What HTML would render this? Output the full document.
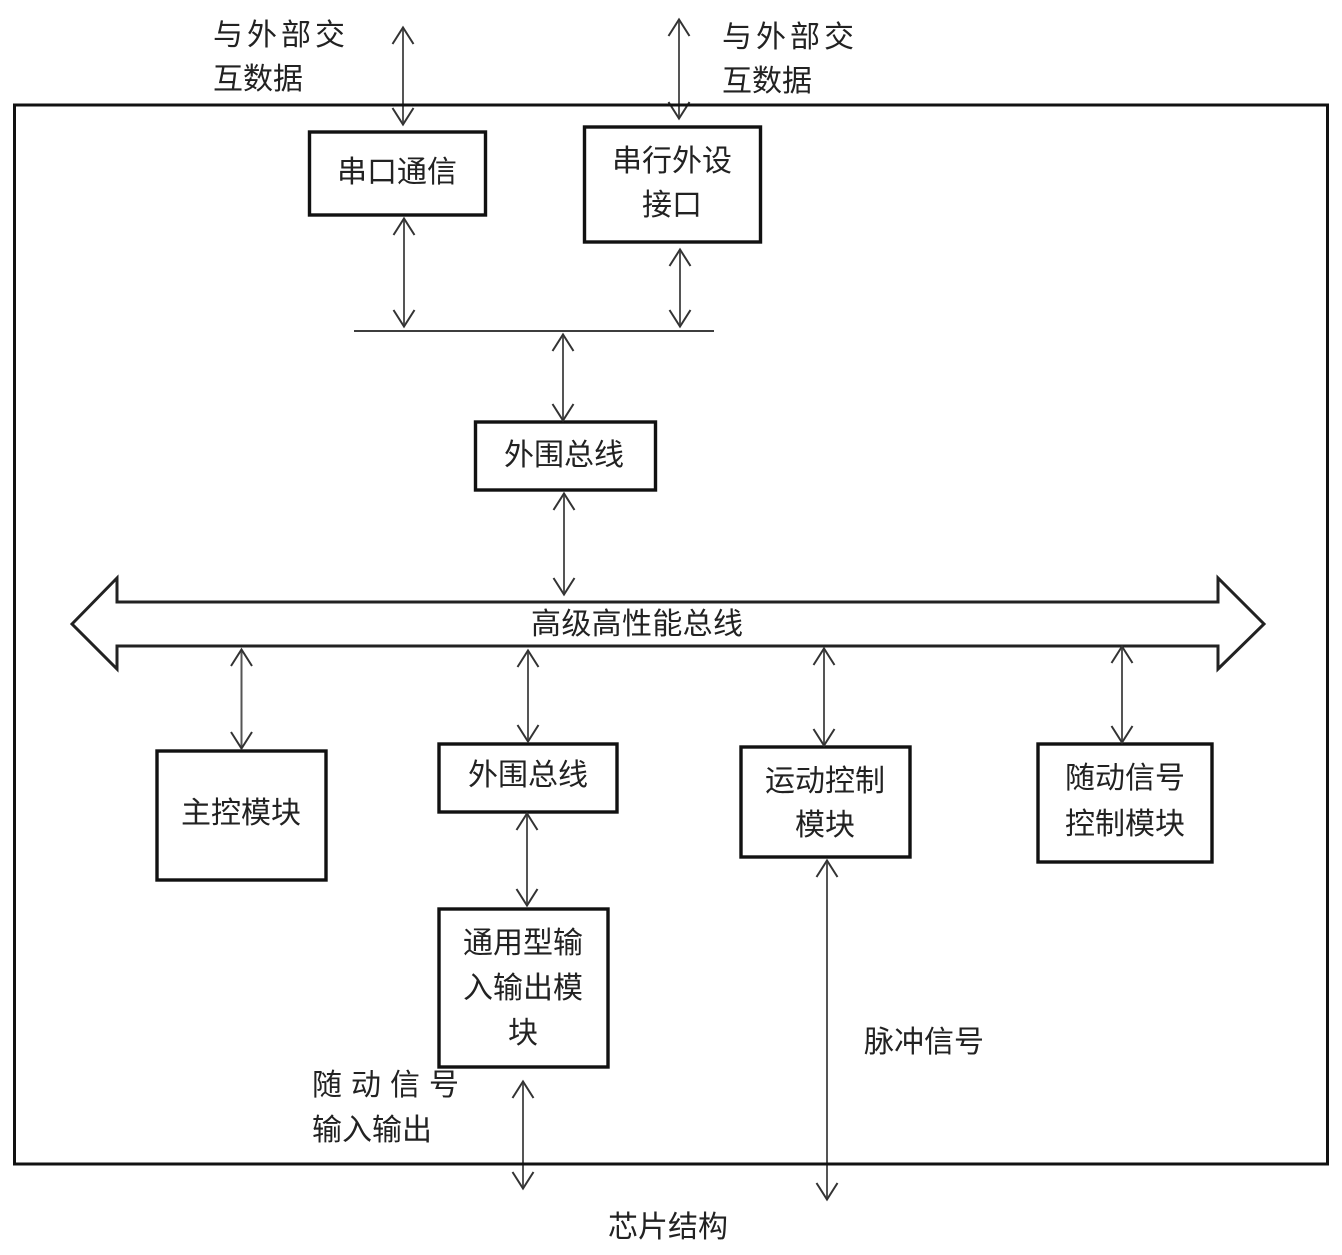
<!DOCTYPE html>
<html><head><meta charset="utf-8"><style>
html,body{margin:0;padding:0;background:#fff;width:1342px;height:1255px;overflow:hidden}
svg{display:block}
text{font-family:"Liberation Sans","WenQuanYi Zen Hei","Noto Sans CJK SC",sans-serif;font-size:30px;fill:#222;text-anchor:middle}
.l{text-anchor:start}
.b{fill:#fff;stroke:#111;stroke-width:3.4}
.a{stroke:#555;stroke-width:2;fill:none}
</style></head><body>
<svg width="1342" height="1255" viewBox="0 0 1342 1255" xmlns="http://www.w3.org/2000/svg">
<defs>
<marker id="e" viewBox="-20 -12 22 24" refX="0" refY="0" markerWidth="22" markerHeight="24" markerUnits="userSpaceOnUse" orient="auto-start-reverse"><path d="M-17 -10.500L-0.500 0L-17 10.500" fill="none" stroke="#333" stroke-width="2"/></marker>
</defs>
<rect x="14.500" y="105" width="1313" height="1059" fill="#fff"/>
<rect class="b" x="309.500" y="132" width="176" height="83"/>
<rect class="b" x="584.500" y="127" width="176" height="115"/>
<rect class="b" x="475.500" y="422" width="180" height="68"/>
<rect class="b" x="157" y="751" width="169" height="129"/>
<rect class="b" x="439" y="744" width="178" height="68"/>
<rect class="b" x="741" y="747" width="169" height="110"/>
<rect class="b" x="1038" y="744" width="174" height="118"/>
<rect class="b" x="439" y="909" width="169" height="158"/>
<path d="M354 331H714" stroke="#222" stroke-width="1.800" fill="none"/>
<path d="M72 624L117 578V602H1218V578L1264 624L1218 669V646H117V669Z" fill="#fff" stroke="#222" stroke-width="3"/>
<path class="a" d="M403 27V125" marker-start="url(#e)" marker-end="url(#e)"/>
<path class="a" d="M679 19V119" marker-start="url(#e)" marker-end="url(#e)"/>
<path class="a" d="M404 218V327" marker-start="url(#e)" marker-end="url(#e)"/>
<path class="a" d="M680 249V327" marker-start="url(#e)" marker-end="url(#e)"/>
<path class="a" d="M563 334V421" marker-start="url(#e)" marker-end="url(#e)"/>
<path class="a" d="M564 493V595" marker-start="url(#e)" marker-end="url(#e)"/>
<path class="a" d="M241.500 649V749" marker-start="url(#e)" marker-end="url(#e)"/>
<path class="a" d="M528 650V742" marker-start="url(#e)" marker-end="url(#e)"/>
<path class="a" d="M824 648V746" marker-start="url(#e)" marker-end="url(#e)"/>
<path class="a" d="M1122 646V743" marker-start="url(#e)" marker-end="url(#e)"/>
<path class="a" d="M527 813V906" marker-start="url(#e)" marker-end="url(#e)"/>
<path class="a" d="M827 860V1200" marker-start="url(#e)" marker-end="url(#e)"/>
<path class="a" d="M523 1081V1189" marker-start="url(#e)" marker-end="url(#e)"/>
<rect x="14.500" y="105" width="1313" height="1059" fill="none" stroke="#111" stroke-width="3"/>
<text class="l" x="213" y="45" textLength="132">与外部交</text>
<text class="l" x="213" y="89">互数据</text>
<text class="l" x="722" y="47" textLength="132">与外部交</text>
<text class="l" x="722" y="91">互数据</text>
<text x="397" y="182">串口通信</text>
<text x="672" y="171">串行外设</text>
<text x="672" y="215">接口</text>
<text x="564" y="465">外围总线</text>
<text x="637" y="634" textLength="212">高级高性能总线</text>
<text x="241" y="823">主控模块</text>
<text x="528" y="785">外围总线</text>
<text x="825" y="791">运动控制</text>
<text x="825" y="835">模块</text>
<text x="1125" y="788">随动信号</text>
<text x="1125" y="834">控制模块</text>
<text x="523" y="953">通用型输</text>
<text x="523" y="998">入输出模</text>
<text x="523" y="1043">块</text>
<text class="l" x="312" y="1095" textLength="147">随动信号</text>
<text class="l" x="312" y="1140">输入输出</text>
<text class="l" x="864" y="1052">脉冲信号</text>
<text x="668" y="1237">芯片结构</text>
</svg>
</body></html>
